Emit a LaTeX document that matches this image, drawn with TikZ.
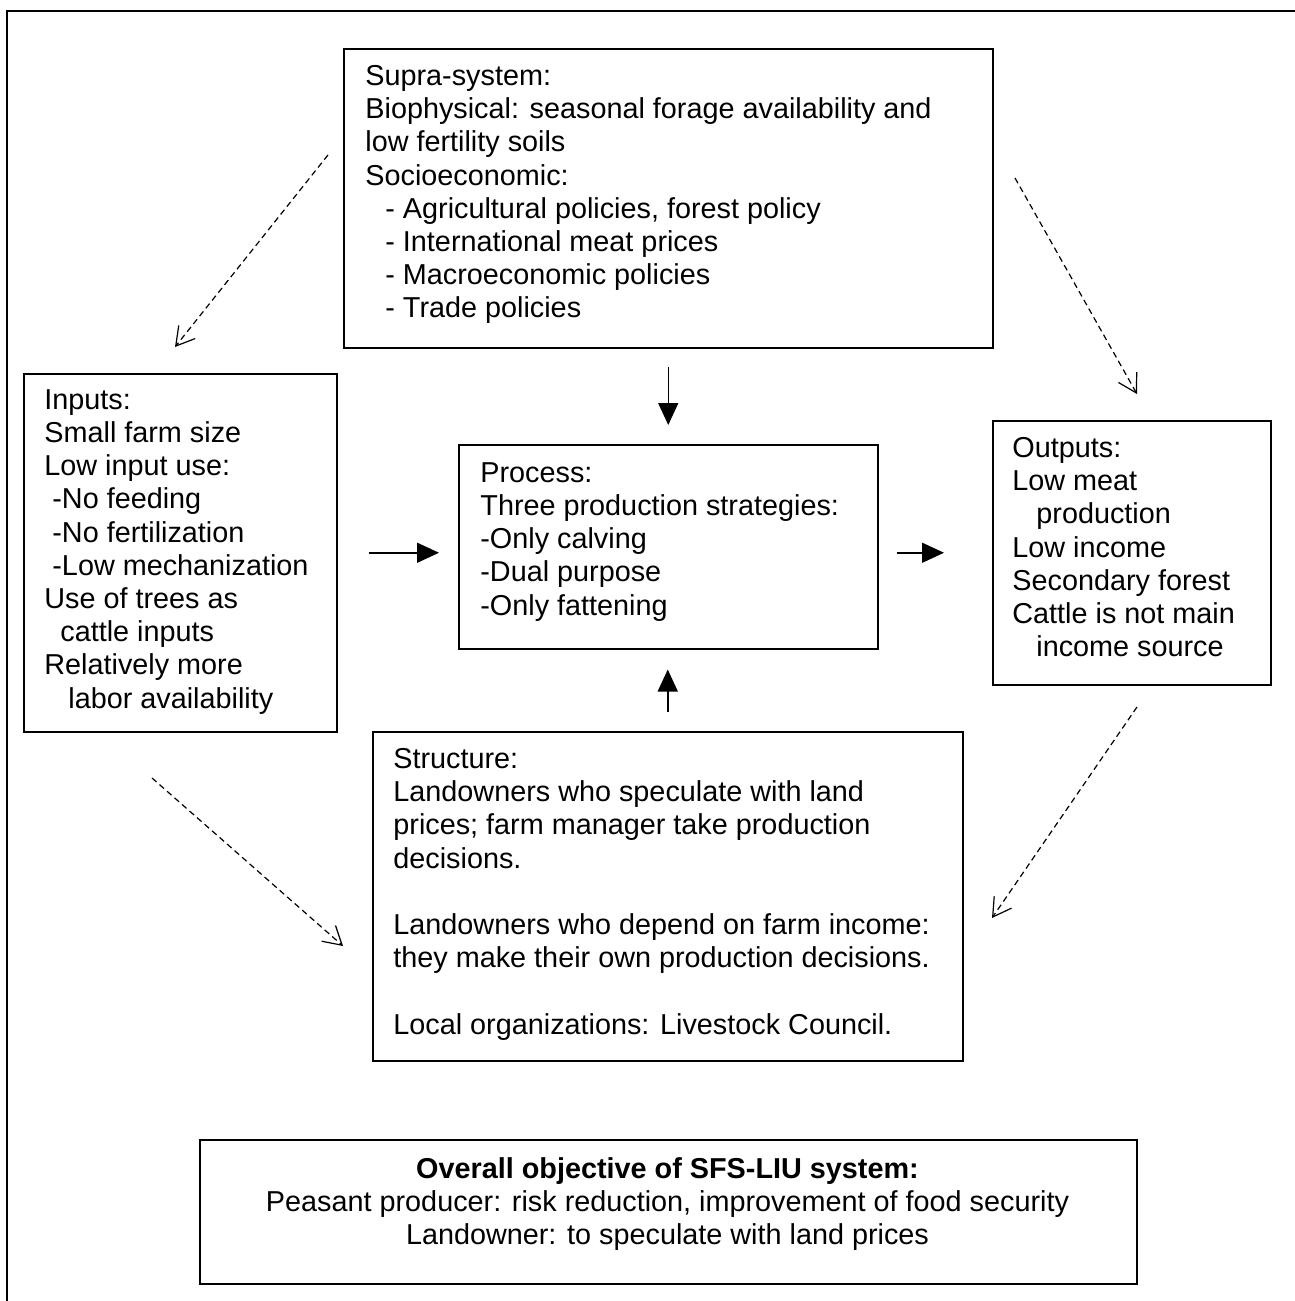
\documentclass[tikz,border=0pt]{standalone}
\usepackage{fontspec}
\setmainfont{Liberation Sans}
\usetikzlibrary{arrows.meta}

\tikzset{
  box/.style={draw, line width=0.75pt, anchor=north west, inner sep=0pt},
  txt/.style={anchor=north west, inner sep=0pt, align=left, font=\fontsize{14.4}{16.6}\selectfont},
  solidarrow/.style={line width=0.75pt, -{Triangle[length=11pt,width=10pt]}},
  dasharrow/.style={line width=0.6pt, dash pattern=on 3pt off 2pt, -{Straight Barb[length=9pt,width=10.5pt,line width=0.6pt]}}
}

\begin{document}
\begin{tikzpicture}[x=0.5pt, y=-0.5pt]
            \useasboundingbox (0,0) rectangle (1295,1301);
            \clip (0,0) rectangle (1295,1301);
            \draw [line width=1pt] (7,11) rectangle (1330,1340);
            \node [box, minimum width=324.5pt, minimum height=149.5pt] (supra) at (343,48) {};
            \node [box, minimum width=156.5pt, minimum height=179pt] (inputs) at (23,373) {};
            \node [box, minimum width=209.5pt, minimum height=102pt] (process) at (458,444) {};
            \node [box, minimum width=139pt, minimum height=132pt] (outputs) at (992,420) {};
            \node [box, minimum width=295pt, minimum height=164.5pt] (structure) at (372,731) {};
            \node [box, minimum width=468.5pt, minimum height=72pt] (objective) at (199,1139) {};
            \node [txt] (supratext) at (365,65) {Supra-system:\\
              Biophysical: seasonal forage availability and\\
              low fertility soils\\
              Socioeconomic:\\
              \hspace*{10pt}- Agricultural policies, forest policy\\
              \hspace*{10pt}- International meat prices\\
              \hspace*{10pt}- Macroeconomic policies\\
              \hspace*{10pt}- Trade policies};
            \node [txt] (inputstext) at (44,389) {Inputs:\\
              Small farm size\\
              Low input use:\\
              \hspace*{4pt}-No feeding\\
              \hspace*{4pt}-No fertilization\\
              \hspace*{4pt}-Low mechanization\\
              Use of trees as\\
              \hspace*{8pt}cattle inputs\\
              Relatively more\\
              \hspace*{12pt}labor availability};
            \node [txt] (processtext) at (480,462) {Process:\\
              Three production strategies:\\
              -Only calving\\
              -Dual purpose\\
              -Only fattening};
            \node [txt] (outputstext) at (1012,437) {Outputs:\\
              Low meat\\
              \hspace*{12pt}production\\
              Low income\\
              Secondary forest\\
              Cattle is not main\\
              \hspace*{12pt}income source};
            \node [txt] (structuretext) at (393,748) {Structure:\\
              Landowners who speculate with land\\
              prices; farm manager take production\\
              decisions.\\[16.6pt]
              Landowners who depend on farm income:\\
              they make their own production decisions.\\[16.6pt]
              Local organizations: Livestock Council.};
            \node [txt, anchor=north, align=center] (objectivetext) at (667.5,1157) {\textbf{Overall objective of SFS-LIU system:}\\
              Peasant producer: risk reduction, improvement of food security\\
              Landowner: to speculate with land prices};
            \draw [solidarrow, shorten <=9pt, shorten >=9.5pt] (supra.south) -- (process.north);
            \draw [solidarrow, shorten <=9.5pt, shorten >=10pt] (structure.north) -- (structure.north |- process.south);
            \draw [solidarrow, shorten <=15.5pt, shorten >=9.5pt] (inputs.east) -- (inputs.east -| process.west);
            \draw [solidarrow, shorten <=9pt, shorten >=24pt] (outputs.west -| process.east) -- (outputs.west);
            \coordinate (supraleft) at (328,155);
            \coordinate (inputstop) at (175,347);
            \coordinate (supraright) at (1015,178);
            \coordinate (outputstop) at (1137,394);
            \coordinate (outputsbottom) at (1137,707);
            \coordinate (structureright) at (992,918);
            \coordinate (inputsbottom) at (152,778);
            \coordinate (structureleft) at (343,946);
            \draw [dasharrow] (supraleft) -- (inputstop);
            \draw [dasharrow] (supraright) -- (outputstop);
            \draw [dasharrow] (outputsbottom) -- (structureright);
            \draw [dasharrow] (inputsbottom) -- (structureleft);
        \end{tikzpicture}
\end{document}
